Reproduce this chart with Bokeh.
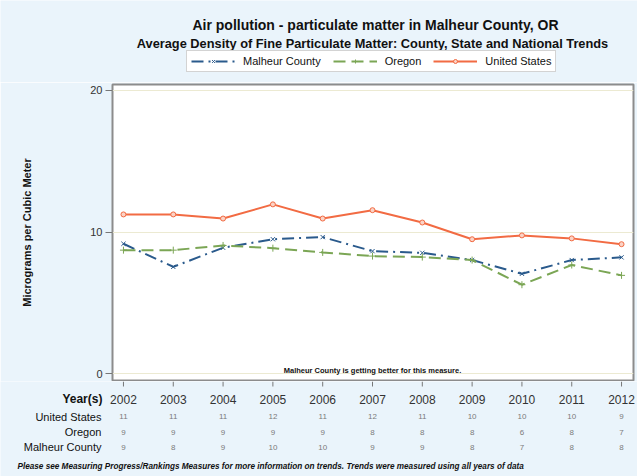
from bokeh.plotting import figure
from bokeh.layouts import column
from bokeh.models import Label, Legend, LegendItem, FixedTicker, Range1d
from bokeh.core.properties import value
from bokeh.embed import file_html
from bokeh.resources import INLINE

years = [2002, 2003, 2004, 2005, 2006, 2007, 2008, 2009, 2010, 2011, 2012]
malheur = [9.18, 7.55, 8.9, 9.5, 9.65, 8.66, 8.54, 8.03, 7.06, 8.03, 8.22]
oregon = [8.73, 8.73, 9.06, 8.87, 8.57, 8.31, 8.24, 8.03, 6.29, 7.68, 6.95]
united_states = [11.25, 11.25, 10.96, 11.96, 10.96, 11.55, 10.68, 9.5, 9.77, 9.56, 9.15]

table_rows = ["United States", "Oregon", "Malheur County"]
table_us = ["11", "11", "11", "12", "11", "12", "11", "10", "10", "10", "9"]
table_or = ["9", "9", "9", "9", "9", "8", "8", "8", "6", "8", "7"]
table_mc = ["9", "8", "9", "10", "10", "9", "9", "8", "7", "8", "8"]
year_labels = [str(y) for y in years]

title_text = "Air pollution - particulate matter in Malheur County, OR"
subtitle_text = "Average Density of Fine Particulate Matter: County, State and National Trends"
note_text = "Malheur County is getting better for this measure."
foot_text = ("Please see Measuring Progress/Rankings Measures for more information on trends. "
             "Trends were measured using all years of data")

FONT = "Liberation Sans"
F = value(FONT)
BG = "#EAF4FB"
W = 637
TOP_H = 82
MAIN_H = 381 - TOP_H
BOT_H = 476 - 381
FL, FR = 112, 633
X0, X1 = 2001.78, 2012.24
PX = (FR - FL) / (X1 - X0)
MC_COL, OR_COL, US_COL = "#2A5A8C", "#7BA655", "#F26B43"


def no_align(f):
    if "frame_align" in f.properties():
        f.frame_align = False
    return f


def series(fig, visible=True):
    r = []
    r.append(fig.line(years, malheur, line_color=MC_COL, line_width=2, line_dash="12 5 2 5", visible=visible))
    r.append(fig.scatter(years, malheur, marker="x", size=6, line_color=MC_COL, line_width=1, visible=visible))
    r.append(fig.line(years, oregon, line_color=OR_COL, line_width=2, line_dash="12 6", visible=visible))
    r.append(fig.scatter(years, oregon, marker="cross", size=7, line_color=OR_COL, line_width=1, visible=visible))
    r.append(fig.line(years, united_states, line_color=US_COL, line_width=2, visible=visible))
    r.append(fig.scatter(years, united_states, marker="circle", size=5, line_color=US_COL,
                         fill_color="#FBD3C6", line_width=1, visible=visible))
    return r


def blank_fig(h, x_range, y_range):
    f = figure(width=W, height=h, output_backend="svg", toolbar_location=None,
               x_range=x_range, y_range=y_range, x_axis_type=None, y_axis_type=None,
               min_border=0, background_fill_color=BG, border_fill_color=BG)
    f.outline_line_color = None
    f.grid.visible = False
    return no_align(f)


# ---------- header: titles + legend ----------
top = blank_fig(TOP_H, Range1d(0, W), Range1d(TOP_H, 0))
top.text(x=375, y=24, text=[title_text], text_font=F, text_font_size="14px",
         text_font_style="bold", text_align="center", text_baseline="middle", text_color="#111111")
top.text(x=372, y=42.5, text=[subtitle_text], text_font=F, text_font_size="12.8px",
         text_font_style="bold", text_align="center", text_baseline="middle", text_color="#111111")
hidden = series(top, visible=False)
legend = Legend(items=[LegendItem(label="Malheur County", renderers=hidden[0:2]),
                       LegendItem(label="Oregon", renderers=hidden[2:4]),
                       LegendItem(label="United States", renderers=hidden[4:6])],
                orientation="horizontal", location=(186, TOP_H - 72),
                glyph_width=44, glyph_height=10, label_standoff=8, spacing=12,
                padding=4, margin=0, label_height=10,
                label_text_font=FONT, label_text_font_size="11px", label_text_color="#111111",
                border_line_color="#A8A8A8", border_line_width=1,
                background_fill_color="white", background_fill_alpha=1)
top.add_layout(legend)

# ---------- main plot ----------
p = figure(width=W, height=MAIN_H, output_backend="svg", toolbar_location=None,
           x_range=Range1d(X0, X1), y_range=Range1d(-0.47, 20.42), x_axis_type=None,
           min_border_left=FL, min_border_right=W - FR, min_border_top=84 - TOP_H, min_border_bottom=1,
           background_fill_color="white", border_fill_color=BG)
no_align(p)
p.outline_line_color = "#8C8C8C"
p.outline_line_width = 2

p.yaxis.ticker = FixedTicker(ticks=[0, 10, 20])
p.yaxis.axis_line_color = None
p.yaxis.major_tick_line_color = "#777777"
p.yaxis.major_tick_out = 7
p.yaxis.major_tick_in = 0
p.yaxis.minor_tick_line_color = None
p.yaxis.major_label_text_font = FONT
p.yaxis.major_label_text_font_size = "11px"
p.yaxis.major_label_text_color = "#333333"
p.yaxis.major_label_standoff = 3
p.yaxis.axis_label = "Micrograms per Cubic Meter"
p.yaxis.axis_label_text_font = FONT
p.yaxis.axis_label_text_font_size = "11px"
p.yaxis.axis_label_text_font_style = "bold"
p.yaxis.axis_label_text_color = "#111111"
p.yaxis.axis_label_standoff = 54

p.xgrid.grid_line_color = None
p.ygrid.grid_line_color = "#ECEAD2"
p.ygrid.grid_line_width = 1

series(p)
p.add_layout(Label(x=2007, y=10, x_units="data", y_units="screen", text=note_text,
                   text_font=FONT, text_font_size="7.5px", text_font_style="bold",
                   text_align="center", text_baseline="middle", text_color="#111111"))

# ---------- ticks, years and table below ----------
Y0 = TOP_H + MAIN_H
bx0 = X0 - FL / PX
bot = blank_fig(BOT_H, Range1d(bx0, bx0 + W / PX), Range1d(Y0 + BOT_H, Y0))
bot.segment(x0=years, x1=years, y0=Y0, y1=Y0 + 5, line_color="#777777", line_width=1)
bot.text(x=2002 - (123 - 102) / PX, y=398.5, text=["Year(s)"], text_font=F, text_font_size="12px",
         text_font_style="bold", text_align="right", text_baseline="middle", text_color="#111111")
bot.text(x=years, y=398.5, text=year_labels, text_font=F, text_font_size="12px",
         text_align="center", text_baseline="middle", text_color="#333333")
row_y = [416, 431.5, 446.5]
bot.text(x=2002 - (123 - 101) / PX, y=row_y, text=table_rows, text_font=F, text_font_size="11px",
         text_align="right", text_baseline="middle", text_color="#111111")
for vals, ry in zip([table_us, table_or, table_mc], row_y):
    bot.text(x=years, y=ry, text=vals, text_font=F, text_font_size="8px",
             text_align="center", text_baseline="middle", text_color="#7A7A7A")
bot.text(x=2002 - (123 - 17) / PX, y=466, text=[foot_text], text_font=F, text_font_size="8.2px",
         text_font_style="bold italic", text_align="left", text_baseline="middle", text_color="#111111")

layout = column(top, p, bot, spacing=0)
open("out.html", "w").write(file_html(layout, INLINE))
